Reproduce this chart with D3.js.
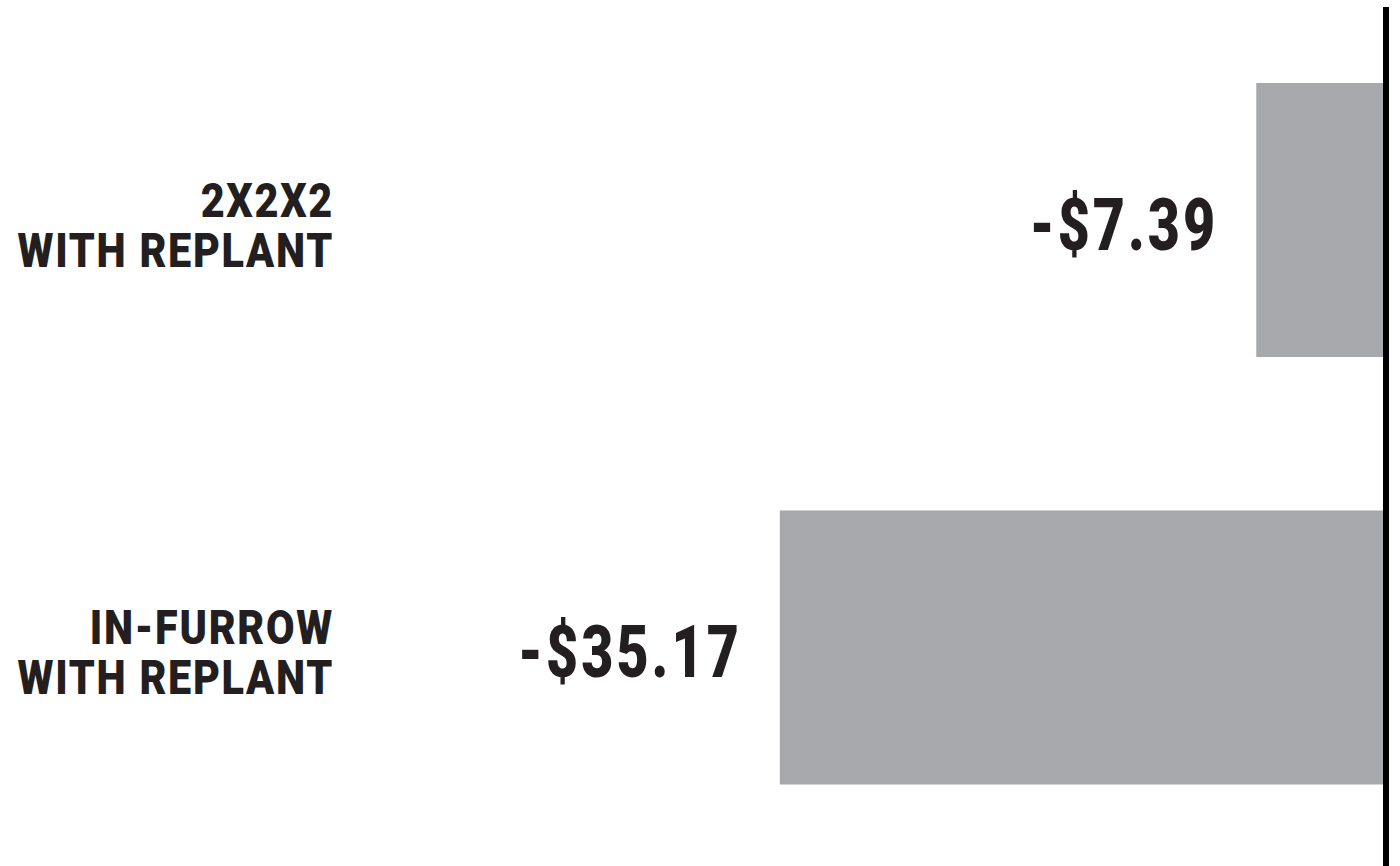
<!DOCTYPE html>
<html>
<head>
<meta charset="utf-8">
<script src="https://cdn.jsdelivr.net/npm/d3@7"></script>
<style>
  body { margin: 0; background: #fff; }
  text { font-family: Roboto, "DejaVu Sans", sans-serif; font-weight: 900; fill: #231f20; }
</style>
</head>
<body>
<svg width="1400" height="866"></svg>
<script>
// ************** Data *****************
const categories = ["2X2X2|WITH REPLANT", "IN-FURROW|WITH REPLANT"];
const values = [-7.39, -35.17];
const valueLabels = ["-$7.39", "-$35.17"];

// *************** Graph Setup *****************
let svg = d3.select("svg");

let xScale = d3.scaleLinear()          // bars grow left from zero
    .domain([-40, 0])
    .range([697, 1383]);

let yScale = d3.scaleBand()
    .domain(categories)
    .range([83, 784.5])
    .paddingInner(0.359)
    .paddingOuter(0);

const data = categories.map((c, i) => ({ cat: c, value: values[i], label: valueLabels[i] }));

// squeeze glyphs horizontally to fake a condensed face
function condense(sel, k) {
    sel.each(function () {
        let len = this.getComputedTextLength();
        d3.select(this).attr("textLength", len * k).attr("lengthAdjust", "spacingAndGlyphs");
    });
}

// bars
svg.selectAll(".bar")
    .data(data)
    .enter().append("rect")
    .attr("class", "bar")
    .attr("x", d => xScale(d.value))
    .attr("y", d => yScale(d.cat))
    .attr("width", d => xScale(0) - xScale(d.value))
    .attr("height", yScale.bandwidth())
    .attr("fill", "#a7a8ac");

// zero line
svg.append("line")
    .attr("x1", xScale(0) + 3).attr("x2", xScale(0) + 3)
    .attr("y1", 7).attr("y2", 866)
    .attr("stroke", "#000")
    .attr("stroke-width", 6);

// value labels
svg.selectAll(".val")
    .data(data)
    .enter().append("text")
    .attr("class", "val")
    .attr("x", d => xScale(d.value) - 38)
    .attr("y", d => yScale(d.cat) + yScale.bandwidth() / 2 + 30)
    .attr("text-anchor", "end")
    .attr("font-size", 73)
    .attr("letter-spacing", 4)
    .text(d => d.label)
    .call(condense, 0.76);

// category labels, two lines each
data.forEach(d => {
    d.cat.split("|").forEach((t, i) => {
        svg.append("text")
            .attr("class", "cat")
            .attr("x", 334)
            .attr("y", yScale(d.cat) + yScale.bandwidth() / 2 - 3 + i * 50)
            .attr("text-anchor", "end")
            .attr("font-size", 49)
            .attr("letter-spacing", 2)
            .text(t)
            .call(condense, 0.845);
    });
});
</script>
</body>
</html>
